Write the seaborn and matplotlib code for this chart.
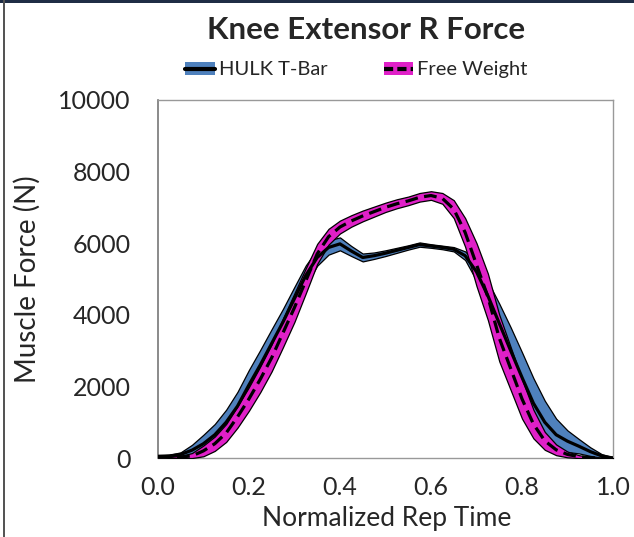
import numpy as np
import matplotlib
matplotlib.use("Agg")
import matplotlib.pyplot as plt
import seaborn as sns
from matplotlib.patches import Patch, Rectangle
from matplotlib.lines import Line2D
from matplotlib.legend_handler import HandlerTuple

# normalized rep time samples
rep_time = [0.000, 0.025, 0.050, 0.075, 0.100, 0.125, 0.150, 0.175, 0.200, 0.225,
            0.250, 0.275, 0.300, 0.325, 0.350, 0.375, 0.400, 0.425, 0.450, 0.475,
            0.500, 0.525, 0.550, 0.575, 0.600, 0.625, 0.650, 0.675, 0.700, 0.725,
            0.750, 0.775, 0.800, 0.825, 0.850, 0.875, 0.900, 0.925, 0.950, 0.975,
            1.000]

# HULK T-Bar: mean and SD (N)
hulk_mean = [50, 60, 100, 220, 400, 650, 1000, 1450, 2040, 2600,
             3200, 3800, 4450, 5100, 5600, 5880, 5980, 5780, 5600, 5650,
             5720, 5800, 5880, 5960, 5920, 5880, 5830, 5650, 5200, 4530,
             3760, 3000, 2250, 1530, 1000, 650, 470, 330, 180, 60,
             0]
hulk_sd = [20, 30, 60, 150, 250, 300, 350, 400, 420, 420,
           400, 370, 330, 280, 230, 200, 180, 140, 110, 90,
           80, 70, 60, 60, 50, 50, 60, 120, 250, 400,
           550, 650, 700, 700, 600, 450, 300, 200, 120, 50,
           20]

# Free Weight: mean and SD (N)
fw_mean = [20, 20, 30, 60, 200, 400, 700, 1150, 1650, 2200,
           2800, 3500, 4200, 4950, 5700, 6180, 6450, 6620, 6760, 6880,
           7000, 7100, 7180, 7280, 7330, 7250, 6950, 6300, 5400, 4500,
           3350, 2500, 1650, 950, 480, 230, 100, 40, 10, 0,
           0]
fw_sd = [10, 15, 30, 80, 150, 200, 250, 300, 330, 360,
         380, 400, 400, 350, 280, 220, 180, 160, 150, 140,
         130, 125, 120, 120, 120, 150, 250, 400, 600, 650,
         650, 600, 550, 400, 250, 150, 80, 40, 20, 10,
         0]

y_ticks = [0, 2000, 4000, 6000, 8000, 10000]
x_ticks = [0.0, 0.2, 0.4, 0.6, 0.8, 1.0]

BLUE = "#4f81bd"
MAGENTA = "#e020c8"

sns.set_style("white")
plt.rcParams['font.family'] = ['Lato', 'DejaVu Sans']

fig = plt.figure(figsize=(6.34, 5.37), dpi=100)
ax = fig.add_axes([0.249, 0.147, 0.718, 0.667])

t = np.array(rep_time)
hm, hs = np.array(hulk_mean), np.array(hulk_sd)
fm, fs = np.array(fw_mean), np.array(fw_sd)

# bandas de desvio padrao
ax.fill_between(t, np.clip(hm - hs, 0, None), hm + hs, facecolor=BLUE,
                edgecolor="black", linewidth=0.9, zorder=2)
ax.fill_between(t, np.clip(fm - fs, 0, None), fm + fs, facecolor=MAGENTA,
                edgecolor="black", linewidth=0.9, zorder=3)

# medias
sns.lineplot(x=t, y=hm, ax=ax, color="black", linewidth=2.3, zorder=4)
sns.lineplot(x=t, y=fm, ax=ax, color="black", linewidth=2.3, zorder=5)
ax.lines[-1].set_dashes((4, 2))

ax.set_xlim(0, 1)
ax.set_ylim(0, 10000)
ax.set_xticks(x_ticks)
ax.set_xticklabels([f"{v:.1f}" for v in x_ticks])
ax.set_yticks(y_ticks)
ax.set_yticklabels([str(v) for v in y_ticks])
ax.tick_params(axis="y", direction="in", length=7, width=1, color="#777777",
               labelsize=18, pad=19.5)
ax.tick_params(axis="x", length=0, labelsize=18, pad=13)
ax.set_xlabel("Normalized Rep Time", fontsize=19)
ax.set_ylabel("Muscle Force (N)", fontsize=20)
ax.xaxis.set_label_coords(0.503, -0.135)
ax.yaxis.set_label_coords(-0.257, 0.5)

for side in ["top", "right", "bottom"]:
    ax.spines[side].set_color("#999999")
    ax.spines[side].set_linewidth(1)
ax.spines["left"].set_color("#777777")
ax.spines["left"].set_linewidth(1.2)

fig.text(0.577, 0.944, "Knee Extensor R Force", ha="center", va="center",
         fontsize=22.5, fontweight="bold")

h_hulk = (Patch(facecolor=BLUE, edgecolor="none"),
          Line2D([], [], color="black", linewidth=3))
h_fw = (Patch(facecolor=MAGENTA, edgecolor="none"),
        Line2D([], [], color="black", linewidth=3, dashes=(2.2, 1)))
fig.legend([h_hulk, h_fw], ["HULK T-Bar", "Free Weight"],
           handler_map={tuple: HandlerTuple(ndivide=1, pad=0)},
           loc="center", bbox_to_anchor=(0.562, 0.870), ncol=2, frameon=False,
           fontsize=14.5, handlelength=1.45, handleheight=0.6, handletextpad=0.2,
           columnspacing=2.8)

# moldura do slide
fig.patches.append(Rectangle((0, 0.994), 1, 0.006, transform=fig.transFigure,
                             facecolor="#1f2d45", edgecolor="none"))
fig.patches.append(Rectangle((0.005, 0), 0.003, 1, transform=fig.transFigure,
                             facecolor="#555555", edgecolor="none"))

fig.savefig("out.png", dpi=100)
